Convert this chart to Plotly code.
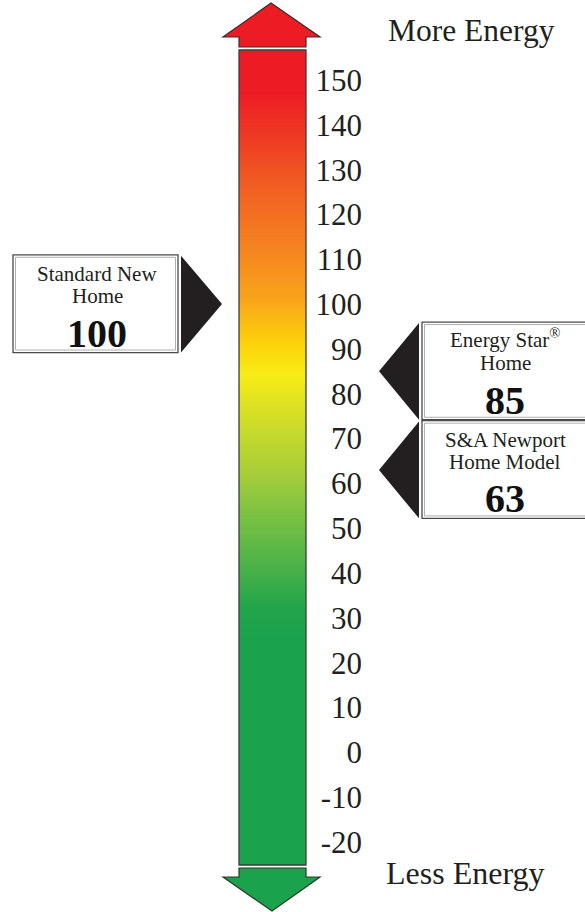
import numpy as np
import plotly.graph_objects as go

# ---------------- data ----------------
TICK_VALUES = list(range(-20, 151, 10))
TICK_LABELS = [str(v) for v in TICK_VALUES]
MARKER_LINE1 = ["Standard New", "Energy Star<sup>®</sup>", "S&amp;A Newport"]
MARKER_LINE2 = ["Home", "Home", "Home Model"]
MARKER_VALUES = [100, 85, 63]
MARKER_SIDES = ["left", "right", "right"]
TOP_LABEL = "More Energy"
BOTTOM_LABEL = "Less Energy"
GRAD_STOPS = [-25.1, 25, 32.4, 40, 51, 62, 73.5, 84.5, 91, 102, 113, 124, 147, 156.7]
GRAD_COLORS = ["#1AA24C", "#1AA24C", "#22A64B", "#45B049", "#72BF44", "#A5CD39",
               "#CEDC28", "#F8EC15", "#FCD20A", "#F9A11B", "#F58220", "#F26522",
               "#ED1C24", "#ED1C24"]

# ---------------- layout geometry ----------------
W, H = 585, 912
PX = (842 - 80) / 170.0           # pixels per unit
Y_TOP = 150 + 80 / PX
Y_BOT = -20 - (H - 842) / PX


def v(py):
    """pixel row -> axis value (for decorative geometry)"""
    return 150 - (py - 80) / PX


FONT = "Liberation Serif, Times New Roman, serif"
INK = "#231F20"
BAR_X0, BAR_X1 = 239, 306
BAR_HI, BAR_LO = v(50), v(865)

fig = go.Figure()

# gradient bar as heatmap
N = 400
edges = np.linspace(BAR_LO, BAR_HI, N + 1)
mids = (edges[:-1] + edges[1:]) / 2
lo, hi = GRAD_STOPS[0], GRAD_STOPS[-1]
cscale = [[(s - lo) / (hi - lo), c] for s, c in zip(GRAD_STOPS, GRAD_COLORS)]
fig.add_trace(go.Heatmap(
    x=[BAR_X0, BAR_X1], y=edges, z=[[m] for m in mids],
    zmin=lo, zmax=hi, colorscale=cscale, showscale=False, hoverinfo="skip"))

shapes = []
# bar outline
shapes.append(dict(type="rect", xref="x", yref="y", x0=BAR_X0, x1=BAR_X1, y0=BAR_LO, y1=BAR_HI,
                   line=dict(color="#3d3d3d", width=1.3), fillcolor="rgba(0,0,0,0)"))
# top arrow
top_path = (f"M {BAR_X0},{v(47)} L {BAR_X0},{v(37)} L 223,{v(37)} L 271,{v(3)} "
            f"L 320,{v(37)} L {BAR_X1},{v(37)} L {BAR_X1},{v(47)} Z")
shapes.append(dict(type="path", xref="x", yref="y", path=top_path,
                   fillcolor="#ED1C24", line=dict(color="#3a2a2a", width=1.2)))
# bottom arrow
bot_path = (f"M {BAR_X0},{v(868)} L {BAR_X0},{v(877)} L 223,{v(877)} L 272,{v(911)} "
            f"L 320,{v(877)} L {BAR_X1},{v(877)} L {BAR_X1},{v(868)} Z")
shapes.append(dict(type="path", xref="x", yref="y", path=bot_path,
                   fillcolor="#1AA24C", line=dict(color="#2a3a2a", width=1.2)))

annotations = []
HALF = 10.8  # half height of the marker box in units
for l1, l2, val, side in zip(MARKER_LINE1, MARKER_LINE2, MARKER_VALUES, MARKER_SIDES):
    if side == "left":
        bx0, bx1, tx = 13, 178, 97
        tri = f"M 181,{val + HALF} L 222,{val} L 181,{val - HALF} Z"
    else:
        bx0, bx1, tx = 422, 594, 505
        tri = f"M 419,{val + HALF} L 379,{val} L 419,{val - HALF} Z"
    shapes.append(dict(type="path", xref="x", yref="y", path=tri,
                       fillcolor=INK, line=dict(width=0)))
    shapes.append(dict(type="rect", xref="x", yref="y", x0=bx0, x1=bx1,
                       y0=val - HALF, y1=val + HALF + 0.2,
                       line=dict(color="#4a4a4a", width=1.3), fillcolor="white"))
    ins = 2.5
    shapes.append(dict(type="rect", xref="x", yref="y", x0=bx0 + ins, x1=bx1 - ins,
                       y0=val - HALF + ins / PX, y1=val + HALF + 0.2 - ins / PX,
                       line=dict(color="#9a9a9a", width=0.8), fillcolor="rgba(0,0,0,0)"))
    for txt, shift in ((l1, 30), (l2, 8)):
        if "<sup>" in txt:
            shift += 3
        annotations.append(dict(x=tx, y=val, xref="x", yref="y", text=txt, showarrow=False,
                                yshift=shift, xanchor="center", yanchor="middle",
                                font=dict(family=FONT, size=21, color=INK)))
    annotations.append(dict(x=tx, y=val, xref="x", yref="y", text=f"<b>{val}</b>",
                            showarrow=False, yshift=-29, xanchor="center", yanchor="middle",
                            font=dict(family=FONT, size=40, color="#111111")))

annotations.append(dict(x=386 / W, y=1 - 31 / H, xref="paper", yref="paper", text=TOP_LABEL,
                        showarrow=False, xanchor="left", yanchor="middle",
                        font=dict(family=FONT, size=31.5, color=INK)))
annotations.append(dict(x=384 / W, y=1 - 873 / H, xref="paper", yref="paper", text=BOTTOM_LABEL,
                        showarrow=False, xanchor="left", yanchor="middle",
                        font=dict(family=FONT, size=32, color=INK)))

fig.update_layout(
    width=W, height=H, margin=dict(l=0, r=0, t=0, b=0),
    paper_bgcolor="white", plot_bgcolor="white",
    showlegend=False, shapes=shapes, annotations=annotations,
    xaxis=dict(range=[0, W], visible=False, fixedrange=True),
    yaxis=dict(range=[Y_BOT, Y_TOP], tickvals=TICK_VALUES, ticktext=TICK_LABELS,
               anchor="free", position=362 / W, side="left", ticks="",
               showgrid=False, zeroline=False, showline=False, fixedrange=True,
               tickfont=dict(family=FONT, size=31, color=INK)),
)

fig.write_html("out.html", config={"displayModeBar": False},
               post_script="document.body.style.margin='0';document.body.style.overflow='hidden';")
